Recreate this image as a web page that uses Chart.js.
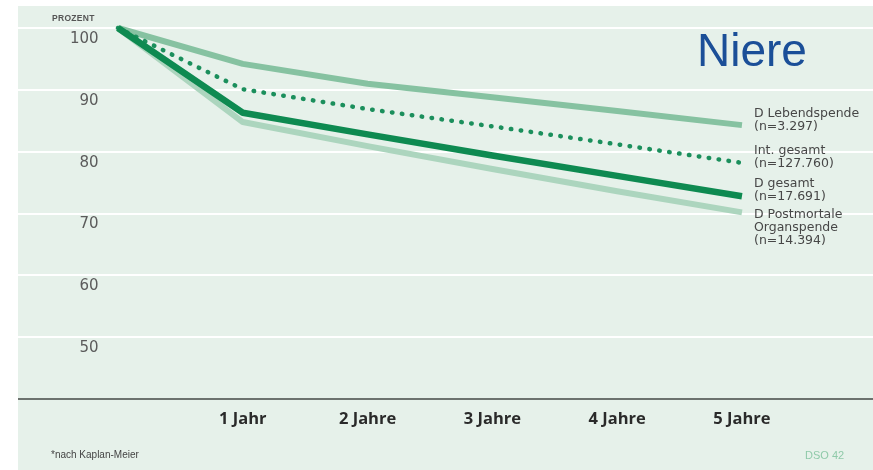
<!DOCTYPE html>
<html>
<head>
<meta charset="utf-8">
<script src="https://cdn.jsdelivr.net/npm/chart.js@4"></script>
<style>
  body { margin: 0; width: 873px; height: 470px; background: #fff; position: relative; overflow: hidden;
         font-family: "Liberation Sans", Arial, sans-serif; }
  #panel { position: absolute; left: 18px; top: 6px; width: 855px; height: 464px; background: #e6f1ea; }
  #chart { position: absolute; left: 0; top: 0; }
  .txt { position: absolute; white-space: nowrap; }
  #title { left: 697px; top: 27px; font-size: 46px; line-height: 46px; color: #1b4f98; }
  #unit { left: 52px; top: 13px; font-size: 8.5px; line-height: 10px; font-weight: bold; color: #555; letter-spacing: 0.3px; }
  .series { left: 754px; font-family: "DejaVu Sans", sans-serif; font-size: 12.5px; line-height: 13px; color: #474747; }
  #note { left: 51px; top: 449px; font-size: 10px; line-height: 12px; color: #444; }
  #src { left: 805px; top: 449px; font-size: 11px; line-height: 12px; color: #8fcaa9; }
</style>
</head>
<body>
<div id="panel"><canvas id="chart" width="855" height="464"></canvas></div>
<div class="txt" id="unit">PROZENT</div>
<div class="txt" id="title">Niere</div>
<div class="txt series" style="top:106px">D Lebendspende<br>(n=3.297)</div>
<div class="txt series" style="top:143px">Int. gesamt<br>(n=127.760)</div>
<div class="txt series" style="top:176px">D gesamt<br>(n=17.691)</div>
<div class="txt series" style="top:207px">D Postmortale<br>Organspende<br>(n=14.394)</div>
<div class="txt" id="note">*nach Kaplan-Meier</div>
<div class="txt" id="src">DSO 42</div>
<script>
// years after transplant, survival in percent
const years = [0, 1, 2, 3, 4, 5];
const xLabels = ['', '1 Jahr', '2 Jahre', '3 Jahre', '4 Jahre', '5 Jahre'];
const yTicks = [50, 60, 70, 80, 90, 100];

const lebendspende = [100, 94.2, 91.0, 88.8, 86.6, 84.3];
const intGesamt = [100, 90.1, 86.9, 84.1, 81.2, 78.2];
const dGesamt = [100, 86.3, 82.8, 79.4, 76.1, 72.8];
const postmortale = [100, 84.8, 80.9, 77.2, 73.6, 70.2];

function toPoints(values) {
    return values.map(function(v, i) { return { x: years[i], y: v }; });
}

new Chart(document.getElementById('chart'), {
    type: 'line',
    data: {
        datasets: [
            { label: 'D gesamt', data: toPoints(dGesamt), borderColor: '#0e8a51', borderWidth: 6.5, order: 1 },
            { label: 'Int. gesamt', data: toPoints(intGesamt), borderColor: '#1b8f5c', borderWidth: 4.5,
              borderDash: [0.5, 9.5], borderCapStyle: 'round', order: 2 },
            { label: 'D Lebendspende', data: toPoints(lebendspende), borderColor: '#86c2a1', borderWidth: 6, order: 3 },
            { label: 'D Postmortale Organspende', data: toPoints(postmortale), borderColor: '#acd5be', borderWidth: 6, order: 4 }
        ]
    },
    options: {
        responsive: false,
        animation: false,
        layout: { padding: { top: 22, bottom: 39, left: 0, right: 0 } },
        elements: {
            point: { radius: 0 },
            line: { tension: 0, borderJoinStyle: 'round' }
        },
        datasets: { line: { clip: false } },
        plugins: { legend: { display: false }, tooltip: { enabled: false } },
        scales: {
            x: {
                type: 'linear',
                min: -0.801,
                max: 6.05,
                afterBuildTicks: function(scale) {
                    scale.ticks = years.slice(1).map(function(v) { return { value: v }; });
                },
                ticks: {
                    callback: function(value) { return xLabels[value]; },
                    padding: 2,
                    color: '#2a2a2a',
                    font: { family: 'Open Sans', size: 16.5, weight: 'bold' }
                },
                grid: { display: false },
                border: { color: '#6c726e', width: 2 }
            },
            y: {
                min: 40,
                max: 100,
                afterBuildTicks: function(scale) {
                    scale.ticks = yTicks.map(function(v) { return { value: v }; });
                },
                afterFit: function(scale) {
                    // labels sit inside the panel, so the axis takes no room
                    scale.width = 0;
                    scale.paddingTop = 0;
                    scale.paddingBottom = 0;
                },
                ticks: {
                    mirror: true,
                    crossAlign: 'far',
                    padding: 52,
                    labelOffset: 11,
                    color: '#5b5b5b',
                    font: { family: 'DejaVu Sans', size: 15 }
                },
                grid: { color: '#ffffff', lineWidth: 2, drawTicks: false },
                border: { display: false }
            }
        }
    }
});
</script>
</body>
</html>
